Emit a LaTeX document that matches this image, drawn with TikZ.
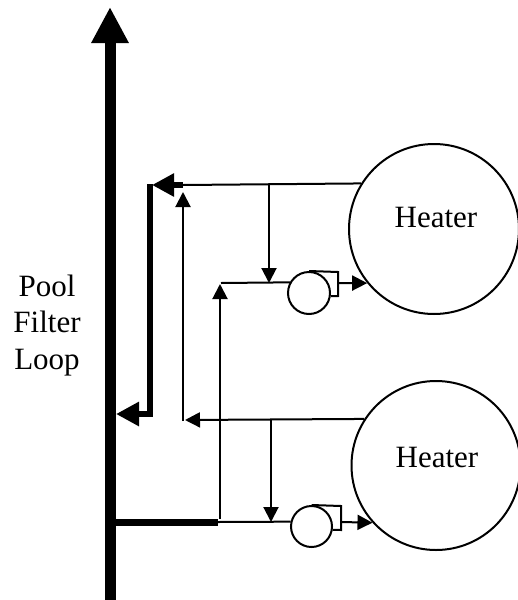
\documentclass[tikz,border=0pt]{standalone}
\usepackage{fontspec}
\setmainfont{Liberation Serif}
\usetikzlibrary{arrows.meta}
\begin{document}
\begin{tikzpicture}[x=1pt,y=-1pt,
  thin line/.style={line width=2pt},
  thinarrow/.style={line width=2pt,-{Triangle[length=15pt,width=15pt]}},
  thickarrow/.style={line width=6pt,-{Triangle[length=22pt,width=22pt]}},
  heater/.style={circle,draw,line width=2pt,minimum size=170pt,inner sep=0pt},
  pump/.style={circle,draw,line width=2pt,minimum size=42pt,inner sep=0pt},
  lbl/.style={font=\fontsize{31}{36}\selectfont,anchor=base,inner sep=0pt}]
\useasboundingbox (0,0) rectangle (518,600);
% heaters
\node[heater] (h1) at (434,229) {};
\node[heater,minimum size=169pt] (h2) at (436,465.5) {};
\node[lbl] (h1t) at (436,227) {Heater};
\node[lbl] (h2t) at (437,467) {Heater};
% pumps
\node[pump] (p1) at (309,293) {};
\node[pump,minimum size=41pt] (p2) at (311.5,526.5) {};
% label
\node[lbl] (l1) at (47,296) {Pool};
\node[lbl] (l2) at (47,332.5) {Filter};
\node[lbl] (l3) at (47,369) {Loop};
% coordinates
\coordinate (mtop) at (110,7);
\coordinate (mbot) at (110,610);
\coordinate (j1) at (183,185);
\coordinate (r1tip) at (152,185);
\coordinate (r1top) at (150,184);
\coordinate (r1end) at (116,414);
\coordinate (d1s) at (269,185);
\coordinate (d1e) at (269,283);
\coordinate (u1s) at (183,421);
\coordinate (u1e) at (183,192);
\coordinate (l2e) at (185,420);
\coordinate (d2s) at (271,420);
\coordinate (d2e) at (271,522);
\coordinate (u2s) at (220,519);
\coordinate (u2e) at (220,284);
\coordinate (i1s) at (221,283);
\coordinate (b1s) at (110,522);
\coordinate (b1e) at (218,522);
\coordinate (o1a) at (338,272);
\coordinate (o1b) at (338,296);
\coordinate (o1) at (338,283);
\coordinate (o2a) at (341,506);
\coordinate (o2b) at (341,530);
\coordinate (o2) at (341,522);
% main loop
\draw[line width=11pt,-{Triangle[length=36pt,width=35pt]}] (mbot) -- (mtop);
% top heater return
\draw[thin line] (h1.148.8) -- (j1);
\draw[thickarrow] (j1) -- (r1tip);
\draw[line width=6pt,-{Triangle[length=23pt,width=23pt]}] (r1top) |- (r1end);
\draw[thinarrow] (d1s) -- (d1e);
% second heater return
\draw[thinarrow] (h2.147.4) -- (l2e);
\draw[thinarrow] (u1s) -- (u1e);
\draw[thinarrow] (d2s) -- (d2e);
% supply
\draw[line width=7pt] (b1s) -- (b1e);
\draw[thin line] (b1e) -- (p2.167.3);
\draw[thinarrow] (u2s) -- (u2e);
\draw[thin line] (i1s) -- (p1.151.6);
% pump outlets
\draw[thin line] (p1.north) -- (o1a) -- (o1b) -- (p1.-8.2);
\draw[thinarrow] (o1) -- (h1.219.4);
\draw[thin line] (p2.north) -- (o2a) -- (o2b) -- (p2.-9.8);
\draw[thinarrow] (o2) -- (h2.222);
\end{tikzpicture}
\end{document}
